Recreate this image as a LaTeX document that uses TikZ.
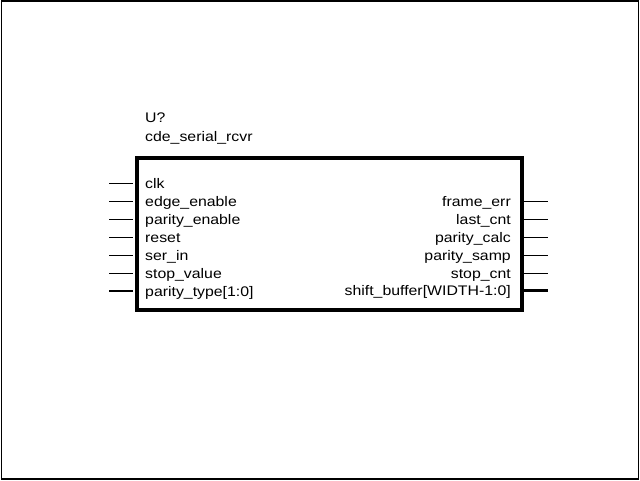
\documentclass[tikz,border=0pt]{standalone}
\usepackage{fontspec}
\setmainfont[FakeStretch=1.14]{Liberation Sans}
\begin{document}
\begin{tikzpicture}[x=1pt,y=-1pt,
  lbl/.style={inner sep=0pt,font=\fontsize{13.9}{16}\selectfont},
  pin/.style={line width=1pt},
  buspin/.style={line width=2.2pt}]
\useasboundingbox (0,0) rectangle (640,480);
\draw[line width=1.5pt] (1.5,0.8) rectangle (638.4,479);
\node[lbl,anchor=base west] (ref) at (145,122.5) {U?};
\node[lbl,anchor=base west] (name) at (145,141) {cde\_serial\_rcvr};
\node[draw,line width=4pt,minimum width=385pt,minimum height=152pt,inner sep=0pt,anchor=north west] (box) at (135,156) {};
% left pins
\foreach \t [count=\i from 0] in {clk,edge\_enable,parity\_enable,reset,ser\_in,stop\_value} {
  \coordinate (la\i) at (109,183.5+17.9*\i);
  \coordinate (lb\i) at (133,183.5+17.9*\i);
  \draw[pin] (la\i) -- (lb\i);
  \node[lbl,anchor=base west] (lt\i) at (145,188.5+17.9*\i) {\t};
}
\coordinate (la6) at (109,291);
\coordinate (lb6) at (133,291);
\draw[buspin] (la6) -- (lb6);
\node[lbl,anchor=base west] (lt6) at (145,296) {parity\_type[1:0]};
% right pins
\foreach \t [count=\i from 1] in {frame\_err,last\_cnt,parity\_calc,parity\_samp,stop\_cnt} {
  \coordinate (ra\i) at (522,183.5+17.9*\i);
  \coordinate (rb\i) at (548,183.5+17.9*\i);
  \draw[pin] (ra\i) -- (rb\i);
  \node[lbl,anchor=base east] (rt\i) at (511,188.5+17.9*\i) {\t};
}
\coordinate (ra6) at (522,290.5);
\coordinate (rb6) at (548,290.5);
\draw[buspin] (ra6) -- (rb6);
\node[lbl,anchor=base east] (rt6) at (511,295.5) {shift\_buffer[WIDTH-1:0]};
\end{tikzpicture}
\end{document}
